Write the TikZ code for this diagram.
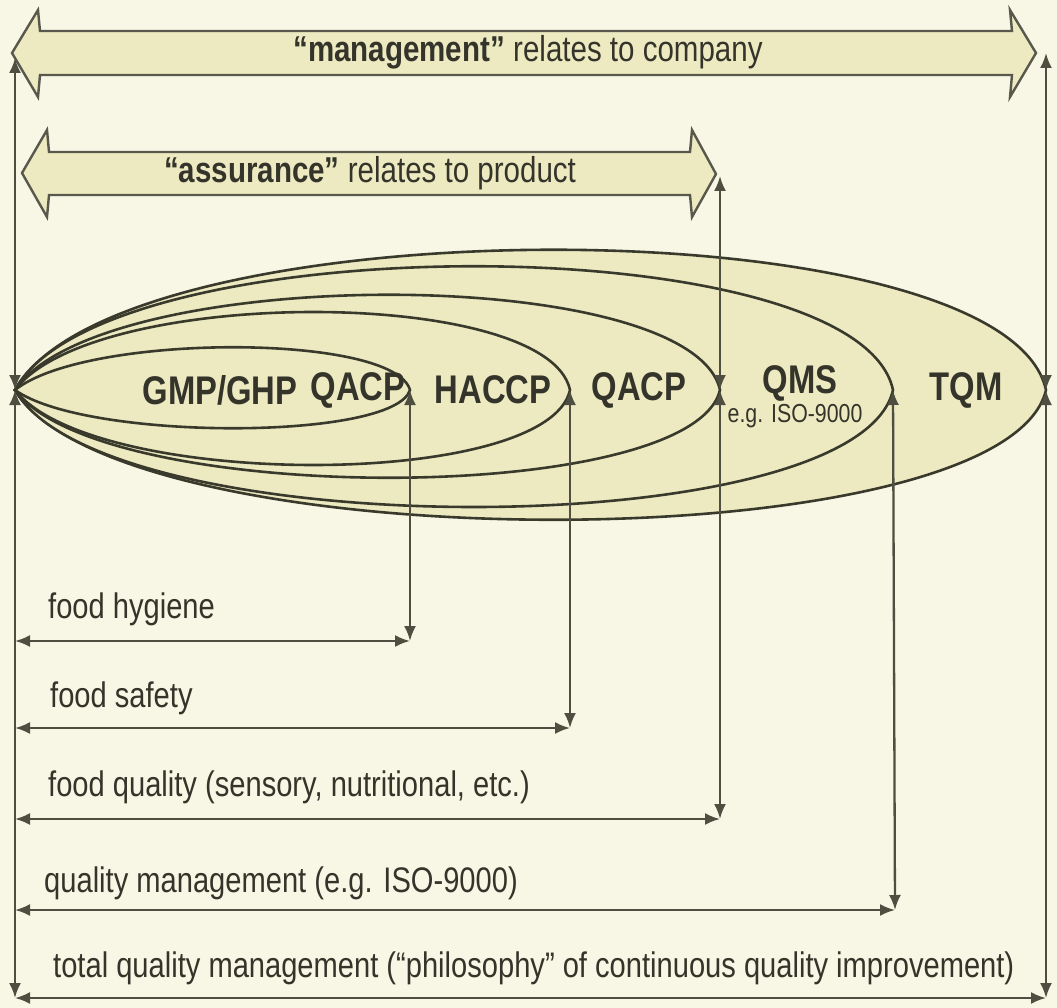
\documentclass[tikz,border=0pt]{standalone}
\usepackage{fontspec}
\setmainfont[FakeStretch=0.82]{Liberation Sans}
\usetikzlibrary{arrows.meta}
\definecolor{bg}{RGB}{248,246,228}
\definecolor{leaf}{RGB}{237,234,194}
\definecolor{ink}{RGB}{58,58,44}
\definecolor{txt}{RGB}{52,52,42}
\begin{document}
\begin{tikzpicture}[x=1pt,y=-1pt,
  leafshape/.style={fill=leaf,draw=ink,line width=2.6pt},
  bigarrow/.style={fill=leaf,draw=ink!85,line width=2.4pt,line join=miter},
  conn/.style={draw=ink!90,line width=2.3pt},
  tipboth/.style={{Latex[length=15pt,width=12pt]}-{Latex[length=15pt,width=12pt]}},
  lbl/.style={font=\fontsize{35.5}{40}\selectfont,text=txt,anchor=base west,inner sep=0pt},
  toplbl/.style={font=\fontsize{36}{40}\selectfont,text=txt,anchor=base,inner sep=0pt},
  boldlbl/.style={font=\bfseries\fontsize{40}{44}\selectfont,text=txt,inner sep=0pt},
  smalllbl/.style={font=\fontsize{26}{28}\selectfont,text=txt,inner sep=0pt}]
\useasboundingbox (0,0) rectangle (1057,1008);
\fill[bg] (0,0) rectangle (1057,1008);

% big arrows
\path[bigarrow] (12,53) -- (38,10) -- (40,31) -- (1012,31) -- (1010,10) -- (1036,53)
  -- (1010,97) -- (1012,75) -- (40,75) -- (38,97) -- cycle;
\node[toplbl] (mgmt) at (528,62) {\textbf{“management”} relates to company};
\path[bigarrow] (22,173) -- (47,130) -- (49,152) -- (690,152) -- (692,130) -- (716,174)
  -- (692,217) -- (690,195) -- (49,195) -- (47,217) -- cycle;
\node[toplbl] (assur) at (370,183) {\textbf{“assurance”} relates to product};

% leaf shapes
\coordinate (L) at (15,390);
\coordinate (Rtip) at (1046,390);
\coordinate (Mtip) at (893,390);
\coordinate (Atip) at (720,390);
\coordinate (Stip) at (570,390);
\coordinate (Htip) at (410,390);
\path[leafshape] (L) .. controls (118,203) and (1005,203) .. (Rtip)
  .. controls (1005,563) and (118,563) .. (L) -- cycle;
\path[leafshape] (L) .. controls (103,225) and (858,225) .. (Mtip)
  .. controls (858,546) and (103,546) .. (L) -- cycle;
\path[leafshape] (L) .. controls (100,263) and (692,263) .. (Atip)
  .. controls (692,507) and (100,507) .. (L) -- cycle;
\path[leafshape] (L) .. controls (93,286) and (548,286) .. (Stip)
  .. controls (548,490) and (93,490) .. (L) -- cycle;
\path[leafshape] (L) .. controls (86,333) and (394,333) .. (Htip)
  .. controls (394,441) and (86,441) .. (L) -- cycle;

\node[boldlbl] (gmp) at (220,390) {GMP/GHP};
\node[boldlbl] (qacp1) at (358,390) {QACP};
\node[boldlbl] (haccp) at (493,390) {HACCP};
\node[boldlbl] (qacp2) at (639,390) {QACP};
\node[boldlbl] (qms) at (800,383) {QMS};
\node[smalllbl] (iso) at (795,416) {e.g. ISO-9000};
\node[boldlbl] (tqm) at (966,390) {TQM};

% connector end points
\coordinate (Ltop) at (15,58);
\coordinate (Lbot) at (15,998);
\coordinate (Rtop) at (1046,53);
\coordinate (Rbot) at (1046,998);
\coordinate (Atop) at (720,176);
\coordinate (Abot) at (720,819);
\coordinate (Hbot) at (410,641);
\coordinate (Sbot) at (570,728);
\coordinate (Mbot) at (895,910);
\coordinate (hygL) at (15,641);
\coordinate (safL) at (15,728);
\coordinate (quaL) at (15,819);
\coordinate (qmL) at (15,910);
\coordinate (totL) at (15,998);

% vertical connectors
\draw[conn,tipboth] (Ltop) -- (L);
\draw[conn,tipboth] (L) -- (Lbot);
\draw[conn,tipboth] (Rtop) -- (Rtip);
\draw[conn,tipboth] (Rtip) -- (Rbot);
\draw[conn,tipboth] (Atop) -- (Atip);
\draw[conn,tipboth] (Atip) -- (Abot);
\draw[conn,tipboth] (Htip) -- (Hbot);
\draw[conn,tipboth] (Stip) -- (Sbot);
\draw[conn,tipboth] (Mtip) -- (Mbot);

% horizontal connectors
\draw[conn,tipboth] (hygL) -- (Hbot);
\draw[conn,tipboth] (safL) -- (Sbot);
\draw[conn,tipboth] (quaL) -- (Abot);
\draw[conn,tipboth] (qmL) -- (Mbot);
\draw[conn,tipboth] (totL) -- (Rbot);

% labels
\node[lbl] (hyg) at (48,618) {food hygiene};
\node[lbl] (saf) at (50,707) {food safety};
\node[lbl] (qua) at (48,796) {food quality (sensory, nutritional, etc.)};
\node[lbl] (qm) at (44,892) {quality management (e.g. ISO-9000)};
\node[lbl] (tot) at (53,977) {total quality management (“philosophy” of continuous quality improvement)};
\end{tikzpicture}
\end{document}
